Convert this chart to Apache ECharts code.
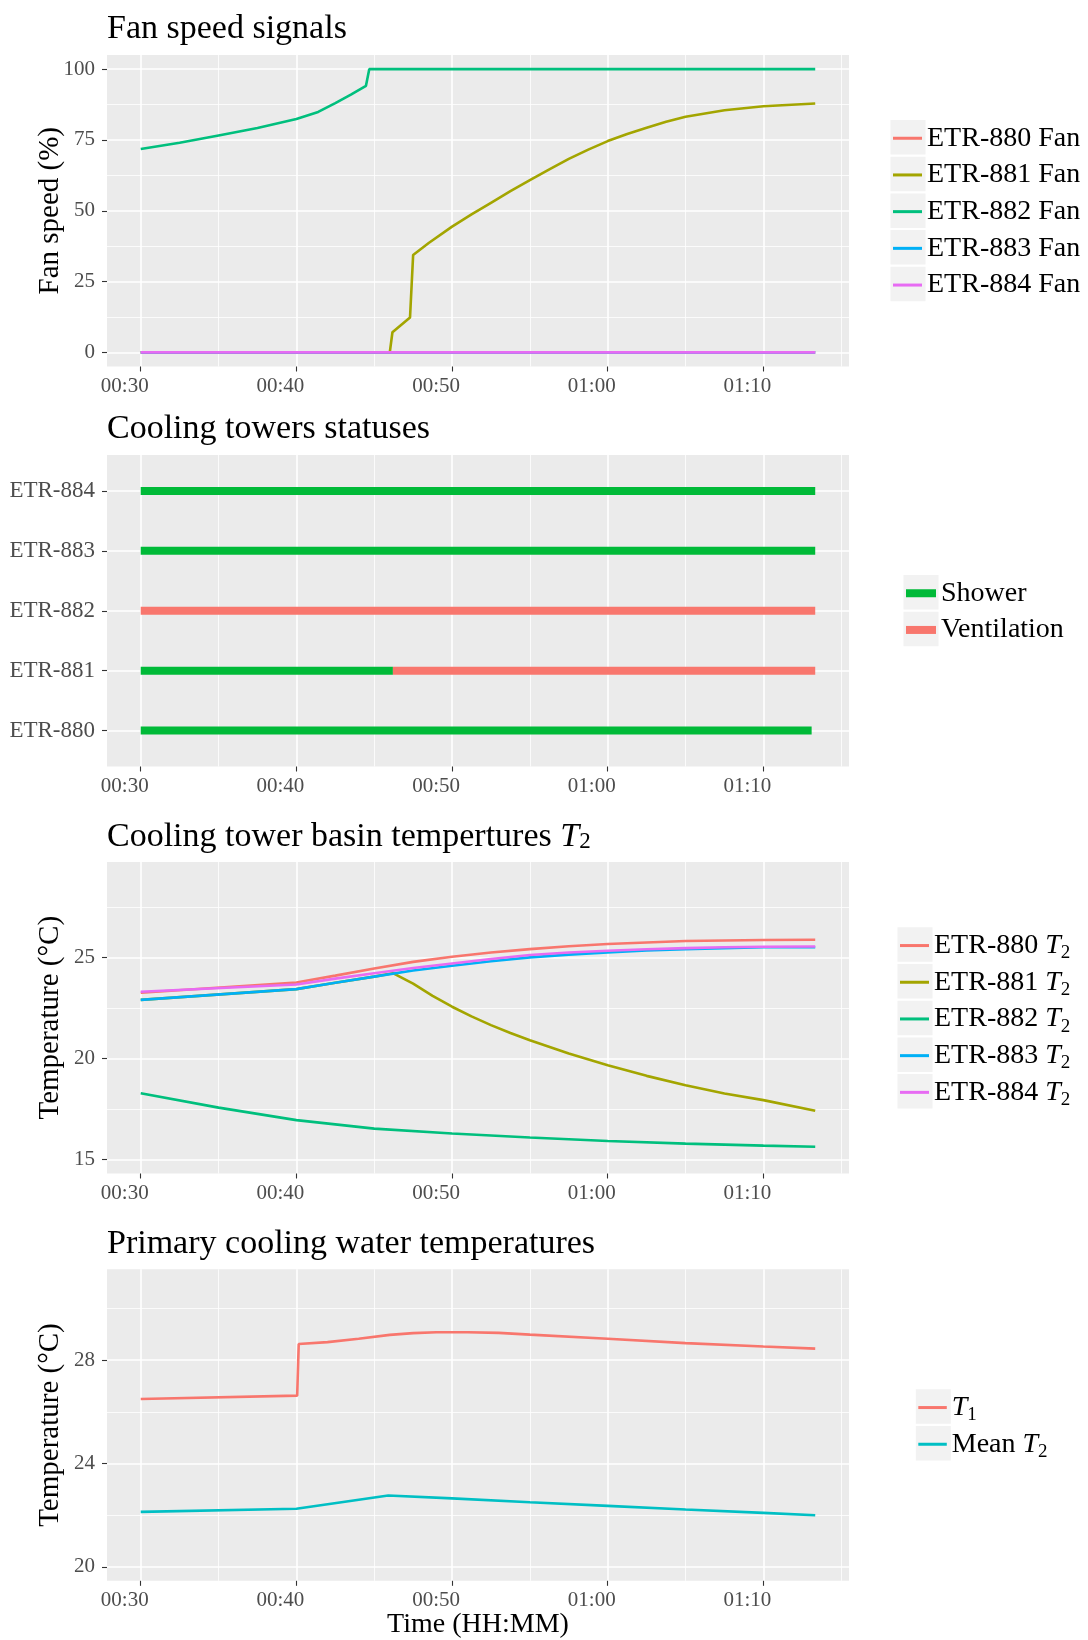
<!DOCTYPE html>
<html><head><meta charset="utf-8">
<script src="https://cdn.jsdelivr.net/npm/echarts@6/dist/echarts.min.js"></script>
<style>html,body{margin:0;padding:0;background:#fff}#c{width:1088px;height:1640px}</style>
</head><body><div id="c"></div>
<script>
// ---------- data (time in minutes after 00:00) ----------
const xTicks = [30, 40, 50, 60, 70];
const xMinorTicks = [35, 45, 55, 65, 75];
const fanTicks = [0, 25, 50, 75, 100];
const fanMinorTicks = [12.5, 37.5, 62.5, 87.5];
const towers = ['ETR-880', 'ETR-881', 'ETR-882', 'ETR-883', 'ETR-884'];
const towerTicks = [1, 2, 3, 4, 5];
const t2Ticks = [15, 20, 25];
const t2MinorTicks = [17.5, 22.5, 27.5];
const t1Ticks = [20, 24, 28];
const t1MinorTicks = [22, 26, 30];

// Fan speeds (%)
const fanZeroTime = [30, 73.33];
const fan880 = [0, 0];
const fan883 = [0, 0];
const fan884 = [0, 0];
const fan881Time = [30, 46.0, 46.17, 47.3, 47.5, 48.5, 50, 51.25, 52.5, 53.75, 55, 56.25, 57.5, 58.75, 60, 61.25, 62.5, 63.75, 65, 67.5, 70, 73.33];
const fan881 = [0, 0, 7.1, 12.3, 34.4, 38.6, 44.4, 48.7, 52.8, 56.9, 60.8, 64.6, 68.3, 71.6, 74.6, 77.1, 79.3, 81.4, 83.2, 85.5, 86.9, 87.9];
const fan882Time = [30, 32.5, 35, 37.5, 40, 41.4, 42.5, 43.5, 44.47, 44.68, 73.33];
const fan882 = [71.8, 74.0, 76.6, 79.2, 82.4, 84.9, 88.0, 91.0, 94.1, 100, 100];

// Cooling tower statuses
const statusTower = ['ETR-880', 'ETR-881', 'ETR-881', 'ETR-882', 'ETR-883', 'ETR-884'];
const statusStart = [30, 30, 46.2, 30, 30, 30];
const statusEnd = [73.1, 46.2, 73.33, 73.33, 73.33, 73.33];
const statusKind = ['Shower', 'Shower', 'Ventilation', 'Ventilation', 'Shower', 'Shower'];

// Basin temperatures T2 (°C)
const t2Time = [30, 40, 42.5, 45, 47.5, 50, 52.5, 55, 57.5, 60, 62.5, 65, 67.5, 70, 73.33];
const t2_880 = [23.25, 23.76, 24.1, 24.45, 24.78, 25.03, 25.24, 25.41, 25.55, 25.66, 25.74, 25.81, 25.84, 25.86, 25.87];
const t2_883 = [22.9, 23.43, 23.75, 24.05, 24.35, 24.59, 24.81, 25.0, 25.14, 25.25, 25.34, 25.41, 25.46, 25.5, 25.5];
const t2_884 = [23.3, 23.66, 23.95, 24.22, 24.48, 24.7, 24.92, 25.12, 25.24, 25.33, 25.40, 25.46, 25.50, 25.53, 25.54];
const t2_881Time = [30, 40, 42.5, 45, 46.2, 47.5, 48.75, 50, 51.25, 52.5, 53.75, 55, 57.5, 60, 62.5, 65, 67.5, 70, 73.33];
const t2_881 = [22.9, 23.43, 23.75, 24.05, 24.22, 23.7, 23.1, 22.56, 22.08, 21.65, 21.26, 20.9, 20.25, 19.67, 19.14, 18.68, 18.27, 17.94, 17.41];
const t2_882Time = [30, 35, 40, 45, 50, 55, 60, 65, 70, 73.33];
const t2_882 = [18.28, 17.57, 16.95, 16.53, 16.29, 16.09, 15.92, 15.79, 15.69, 15.63];

// Primary cooling water temperatures (°C)
const t1Time = [30, 40.05, 40.15, 42, 44, 46, 47.5, 49, 51, 53, 55, 60, 65, 70, 73.33];
const t1 = [26.5, 26.63, 28.63, 28.7, 28.83, 28.98, 29.05, 29.08, 29.08, 29.06, 28.99, 28.83, 28.66, 28.53, 28.45];
const meanT2Time = [30, 40, 45.9, 50, 55, 60, 65, 70, 73.33];
const meanT2 = [22.13, 22.25, 22.76, 22.65, 22.5, 22.36, 22.22, 22.09, 22.0];

// ---------- layout / style ----------
const FONT = 'Liberation Serif';
const GL = 107, GW = 742, GH = 311.5;
const gridTops = [55, 455, 862, 1269.3];
const titleTops = [12, 412, 819.7, 1227];
const xMin = 27.8333, xMax = 75.5;
const yRanges = [[-5, 105], [0.4, 5.6], [14.31, 29.72], [19.46, 31.52]];
const yMajor = [fanTicks, towerTicks, t2Ticks, t1Ticks];
const yMinor = [fanMinorTicks, [], t2MinorTicks, t1MinorTicks];
const yNames = ['Fan speed (%)', '', 'Temperature (°C)', 'Temperature (°C)'];
const titles = ['{t|Fan speed signals}', '{t|Cooling towers statuses}',
  '{t|Cooling tower basin tempertures }{i|T}{s|2}', '{t|Primary cooling water temperatures}'];

const C5 = ['#F8766D', '#A3A500', '#00BF7D', '#00B0F6', '#E76BF3'];
const SHOWER = '#00BA38', VENT = '#F8766D';

function hhmm(v) {
  const h = Math.floor(v / 60), m = Math.round(v % 60);
  return String(h).padStart(2, '0') + ':' + String(m).padStart(2, '0');
}
function zip(t, v) { return t.map((x, i) => [x, v[i]]); }

const grids = gridTops.map(t => ({
  left: GL, top: t, width: GW, height: GH, show: true,
  backgroundColor: '#EBEBEB', borderWidth: 0, containLabel: false, outerBoundsMode: 'none'
}));

const xAxes = [], yAxes = [];
for (let i = 0; i < 4; i++) {
  xAxes.push({
    gridIndex: i, type: 'value', min: xMin, max: xMax, position: 'bottom',
    axisLine: { show: false, onZero: false },
    axisTick: { show: true, customValues: xTicks, length: 5, lineStyle: { color: '#333333', width: 1.1 } },
    axisLabel: { show: true, customValues: xTicks, formatter: hhmm, color: '#4D4D4D', fontFamily: FONT,
      fontSize: 21, margin: 9, padding: [0, 32, 0, 0], hideOverlap: false },
    splitLine: { show: true, lineStyle: { color: '#FFFFFF', width: 1.6 } },
    name: i === 3 ? 'Time (HH:MM)' : '', nameLocation: 'middle', nameGap: 30, nameMoveOverlap: false,
    nameTextStyle: { fontFamily: FONT, fontSize: 28, color: '#000', lineHeight: 28 }
  });
  xAxes.push({
    gridIndex: i, type: 'value', min: xMin, max: xMax, position: 'top',
    axisLine: { show: false, onZero: false }, axisTick: { show: false, customValues: xMinorTicks },
    axisLabel: { show: false }, splitLine: { show: true, lineStyle: { color: '#FFFFFF', width: 0.8 } }
  });
  yAxes.push({
    gridIndex: i, type: 'value', min: yRanges[i][0], max: yRanges[i][1], position: 'left',
    axisLine: { show: false, onZero: false },
    axisTick: { show: true, customValues: yMajor[i], length: 5, lineStyle: { color: '#333333', width: 1.1 } },
    axisLabel: { show: true, customValues: yMajor[i], color: '#4D4D4D', fontFamily: FONT,
      fontSize: i === 1 ? 23 : 21, margin: 12,
      formatter: i === 1 ? (v => towers[Math.round(v) - 1]) : (v => String(v)), hideOverlap: false },
    splitLine: { show: true, lineStyle: { color: '#FFFFFF', width: 1.6 } },
    name: yNames[i], nameLocation: 'middle', nameGap: 42, nameRotate: 90, nameMoveOverlap: false,
    nameTextStyle: { fontFamily: FONT, fontSize: 29, color: '#000', lineHeight: 29 }
  });
  yAxes.push({
    gridIndex: i, type: 'value', min: yRanges[i][0], max: yRanges[i][1], position: 'right',
    axisLine: { show: false, onZero: false }, axisTick: { show: false, customValues: yMinor[i] },
    axisLabel: { show: false },
    splitLine: { show: yMinor[i].length > 0, lineStyle: { color: '#FFFFFF', width: 0.8 } }
  });
}

function lineSeries(name, color, panel, t, v) {
  return {
    type: 'line', name, color, xAxisIndex: panel * 2, yAxisIndex: panel * 2,
    data: zip(t, v), showSymbol: false, symbol: 'none',
    lineStyle: { width: 2.6, color }, itemStyle: { color }, emphasis: { disabled: true }
  };
}
function statusSeries(kind, color) {
  const data = [];
  statusKind.forEach((k, i) => {
    if (k === kind) data.push([statusStart[i], statusEnd[i], towers.indexOf(statusTower[i]) + 1]);
  });
  return {
    type: 'custom', name: kind, xAxisIndex: 2, yAxisIndex: 2, data,
    itemStyle: { color }, encode: { x: [0, 1], y: 2 },
    renderItem: (params, api) => {
      const a = api.coord([api.value(0), api.value(2)]);
      const b = api.coord([api.value(1), api.value(2)]);
      return { type: 'rect', shape: { x: a[0], y: a[1] - 4, width: b[0] - a[0], height: 8 },
        style: { fill: color } };
    }
  };
}

const series = [
  lineSeries('ETR-880 Fan', C5[0], 0, fanZeroTime, fan880),
  lineSeries('ETR-881 Fan', C5[1], 0, fan881Time, fan881),
  lineSeries('ETR-882 Fan', C5[2], 0, fan882Time, fan882),
  lineSeries('ETR-883 Fan', C5[3], 0, fanZeroTime, fan883),
  lineSeries('ETR-884 Fan', C5[4], 0, fanZeroTime, fan884),
  statusSeries('Shower', SHOWER),
  statusSeries('Ventilation', VENT),
  lineSeries('ETR-880 T2', C5[0], 2, t2Time, t2_880),
  lineSeries('ETR-881 T2', C5[1], 2, t2_881Time, t2_881),
  lineSeries('ETR-882 T2', C5[2], 2, t2_882Time, t2_882),
  lineSeries('ETR-883 T2', C5[3], 2, t2Time, t2_883),
  lineSeries('ETR-884 T2', C5[4], 2, t2Time, t2_884),
  lineSeries('T1', '#F8766D', 3, t1Time, t1),
  lineSeries('Mean T2', '#00BFC4', 3, meanT2Time, meanT2)
];

const legendNames = [
  ['ETR-880 Fan', 'ETR-881 Fan', 'ETR-882 Fan', 'ETR-883 Fan', 'ETR-884 Fan'],
  ['Shower', 'Ventilation'],
  ['ETR-880 T2', 'ETR-881 T2', 'ETR-882 T2', 'ETR-883 T2', 'ETR-884 T2'],
  ['T1', 'Mean T2']
];
const legendLeft = [893, 906, 900, 918.3];
const legendTop = [120, 575, 927.3, 1389.3];
const legendIconW = [29, 30, 29, 28.5];
const legendIconH = [3, 8, 3, 3];
const ROW = 34.5, PITCH = 36.7;

function legendFmt(name) {
  const m = name.match(/^(.*?)T(\d)$/);
  if (m) return (m[1] ? '{n|' + m[1] + '}' : '') + '{i|T}{s|' + m[2] + '}';
  return '{n|' + name + '}';
}
const rich = {
  n: { fontFamily: FONT, fontSize: 28, lineHeight: ROW, color: '#000' },
  i: { fontFamily: FONT, fontSize: 28, fontStyle: 'italic', lineHeight: ROW, color: '#000' },
  s: { fontFamily: FONT, fontSize: 19, lineHeight: 20, verticalAlign: 'bottom', color: '#000' }
};
// one legend component per entry so that every row sits at its own key box
const legends = [];
const graphics = [];
legendNames.forEach((names, k) => {
  names.forEach((n, j) => {
    const rowTop = legendTop[k] + j * PITCH;
    legends.push({
      data: [n], orient: 'vertical', left: legendLeft[k], top: rowTop + 1, padding: 0,
      itemGap: 0, itemWidth: legendIconW[k], itemHeight: legendIconH[k], icon: 'rect',
      selectedMode: false, formatter: legendFmt,
      textStyle: { fontFamily: FONT, fontSize: 28, lineHeight: ROW, color: '#000', rich }
    });
    graphics.push({ type: 'rect', z: -10, silent: true,
      shape: { x: legendLeft[k] - 2.5, y: rowTop, width: 35, height: ROW },
      style: { fill: '#F2F2F2' } });
  });
});

const titleOpts = titles.map((t, k) => ({
  text: t, left: GL, top: titleTops[k], padding: 0,
  textStyle: { fontFamily: FONT, fontSize: 34, fontWeight: 'normal', color: '#000', lineHeight: 34,
    rich: {
      t: { fontFamily: FONT, fontSize: 34, lineHeight: 34, color: '#000' },
      i: { fontFamily: FONT, fontSize: 34, fontStyle: 'italic', lineHeight: 34, color: '#000' },
      s: { fontFamily: FONT, fontSize: 23, lineHeight: 16, verticalAlign: 'bottom', color: '#000' }
    } }
}));

const chart = echarts.init(document.getElementById('c'), null, { renderer: 'canvas' });
chart.setOption({
  backgroundColor: '#FFFFFF', animation: false,
  title: titleOpts, grid: grids, xAxis: xAxes, yAxis: yAxes,
  legend: legends, graphic: graphics, series, tooltip: { show: false }
});
</script></body></html>
